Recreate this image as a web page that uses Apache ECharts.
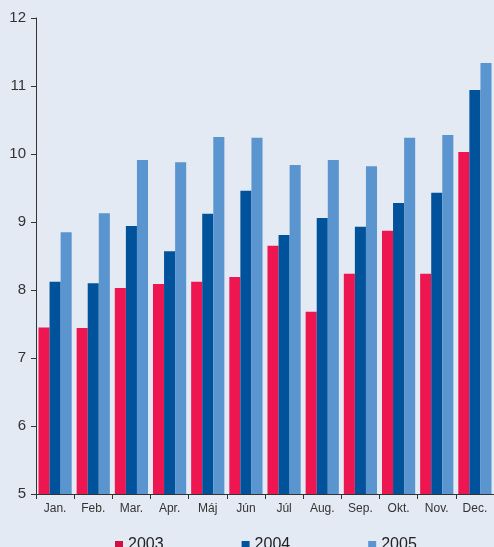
<!DOCTYPE html>
<html><head><meta charset="utf-8">
<script src="https://cdn.jsdelivr.net/npm/echarts@6/dist/echarts.min.js"></script>
<style>html,body{margin:0;padding:0;background:#e3eaf4}#c{width:494px;height:547px}</style>
</head><body><div id="c"></div>
<script>
var categories = ['Jan.','Feb.','Mar.','Apr.','Máj','Jún','Júl','Aug.','Sep.','Okt.','Nov.','Dec.'];
var s2003 = [7.45, 7.44, 8.03, 8.09, 8.12, 8.19, 8.65, 7.68, 8.24, 8.87, 8.24, 10.03];
var s2004 = [8.12, 8.10, 8.94, 8.57, 9.12, 9.46, 8.81, 9.06, 8.93, 9.28, 9.43, 10.94];
var s2005 = [8.85, 9.13, 9.91, 9.88, 10.25, 10.24, 9.84, 9.91, 9.82, 10.24, 10.28, 11.34];
var yTicks = [5, 6, 7, 8, 9, 10, 11, 12];

var chart = echarts.init(document.getElementById('c'));
function bar(name, data, color) {
  return {name: name, type: 'bar', data: data, barGap: '0%', barCategoryGap: '13%',
    itemStyle: {color: color}, emphasis: {disabled: true}};
}
chart.setOption({
  backgroundColor: '#e3eaf4',
  animation: false,
  grid: {left: 36, top: 18, right: 0, bottom: 53, containLabel: false},
  legend: {
    left: 110, top: 532, itemWidth: 8, itemHeight: 8, itemGap: 78, icon: 'rect',
    textStyle: {fontFamily: 'Liberation Sans, Arial, sans-serif', fontSize: 16, color: '#222', padding: [0,0,0,0]},
    data: [
      {name: '2003', itemStyle: {color: '#cf1040'}},
      {name: '2004', itemStyle: {color: '#00529b'}},
      {name: '2005', itemStyle: {color: '#5b95cf'}}
    ]
  },
  xAxis: {
    type: 'category', data: categories,
    axisLine: {lineStyle: {color: '#333', width: 1}},
    axisTick: {show: true, length: 5, lineStyle: {color: '#333'}},
    axisLabel: {fontFamily: 'Liberation Sans Narrow, Liberation Sans, sans-serif', fontSize: 12, color: '#333', margin: 9}
  },
  yAxis: {
    type: 'value', min: yTicks[0], max: yTicks[yTicks.length-1], interval: 1,
    splitLine: {show: false},
    axisLine: {show: true, lineStyle: {color: '#333', width: 1}},
    axisTick: {show: true, length: 5, lineStyle: {color: '#333'}},
    axisLabel: {fontFamily: 'Liberation Sans, Arial, sans-serif', fontSize: 15, color: '#333', margin: 10}
  },
  series: [
    bar('2003', s2003, '#ee1650'),
    bar('2004', s2004, '#00529b'),
    bar('2005', s2005, '#5b95cf')
  ]
});
</script></body></html>
